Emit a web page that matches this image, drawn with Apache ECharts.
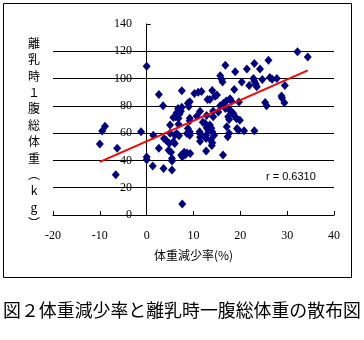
<!DOCTYPE html>
<html><head><meta charset="utf-8">
<script src="https://cdn.jsdelivr.net/npm/echarts@6/dist/echarts.min.js"></script>
<style>html,body{margin:0;padding:0;background:#fff}#c{width:364px;height:340px}</style>
</head><body><div id="c"></div>
<script>
// weight loss rate (%)
const lossRate = [-10,-9.5,-8.9,-6.3,-6.6,-1.2,0,0,0,1.3,1.4,2.6,2.6,3.5,3.6,3.7,4.1,5,4.8,5,4.7,5.2,5.4,5.4,5.4,7.6,
6.2,6.4,6.7,7,7.3,7.5,6.8,5.7,7.5,8.8,9,9.2,10.2,11,11.7,11.4,10.7,9.2,9.2,6.8,12,12.5,8.8,9.2,9.2,6.4,6.9,6,8.6,5.7,6,
11.3,11.4,13.5,13.8,14,14.4,12.8,13.2,12.7,12.7,11.4,11.4,13.7,14,13.9,7.4,8,8.2,8.6,9.3,7.6,12.7,16.3,
16.8,15.7,16,16.2,18.9,21.4,23,24.2,26,32.2,34.4,14,20.3,21.9,22.8,23,23.3,23.5,24.7,26.3,26.8,27.8,29.5,28.8,28.9,29.4,
25.3,25.6,18.7,13,13.5,14.6,15,16.4,17,17.8,18.1,19.7,15.7,16.8,17.4,17.8,18.1,14.2,15.3,12.8,14.2,17.4,18.5,18.9,19.2,19.9,17.6,
20.8,23,17.1,17.6,17.3,19.3,19.6];
// total litter weight at weaning (kg)
const litterWeight = [52,61.5,65,49,29.5,61,109,42.5,40.5,36,58.5,49,88.3,80,34,56,55,66,52.5,60,47.5,46,41.5,39.5,33,8,
72,75,78,74,76,79,71,71.5,91,82,79.5,83,89,90,90.5,76,72.4,69,71,66.6,68,67,63.4,61,58.5,59.8,58,58.5,59.8,53.6,52.4,
61,59.5,66,63.5,61,58.5,64,62,58.5,56,57,54,55,53,51,44,46,44,45.5,45,42.7,47,44,
109.7,102,99.5,97.5,105,107,111,107,113.4,119.7,115.8,91.2,97.5,95,100,98,96,94,99.3,100.7,99.5,100,95,87.3,85.8,82.3,
82.4,80,92,84.6,84.6,87,88,82,83.6,85.3,83.4,82.9,80,78,78,76.8,75.6,76.3,75.5,73,72,72,74.4,72,70.5,69.5,70,
61.7,61.7,64.6,60,57.3,63.4,62.2];
// regression line end points
const trendX = [-10, 34.4];
const trendY = [39, 106];
const xTicks = {min: -20, max: 40, step: 10};
const yTicks = {min: 0, max: 140, step: 20};
const rLabel = 'r = 0.6310';
const xName = '体重減少率(%)';
const yNameChars = ['離','乳','時','１','腹','総','体','重','︵','k','g','︶'];
const caption = '図２体重減少率と離乳時一腹総体重の散布図';

const pts = lossRate.map((x, i) => [x, litterWeight[i]]);
const trend = trendX.map((x, i) => [x, trendY[i]]);

const chart = echarts.init(document.getElementById('c'), null, {renderer: 'canvas'});
const labelFont = {fontFamily: 'Liberation Sans Narrow', fontSize: 12, color: '#000'};
chart.setOption({
  animation: false,
  backgroundColor: '#fff',
  grid: {left: 53, right: 30, top: 24, bottom: 125, containLabel: false},
  xAxis: {
    type: 'value', min: xTicks.min, max: xTicks.max, interval: xTicks.step,
    name: xName, nameLocation: 'middle', nameGap: 34,
    nameTextStyle: {fontFamily: 'Noto Sans CJK JP', fontSize: 12, color: '#000'},
    axisLine: {show: true, onZero: false, lineStyle: {color: '#000', width: 1}},
    axisTick: {show: true, inside: true, length: 4, lineStyle: {color: '#000'}},
    axisLabel: Object.assign({margin: 15}, labelFont),
    splitLine: {show: false}
  },
  yAxis: {
    type: 'value', min: yTicks.min, max: yTicks.max, interval: yTicks.step,
    axisLine: {show: true, onZero: true, lineStyle: {color: '#000', width: 1}},
    axisTick: {show: true, inside: true, length: 4, lineStyle: {color: '#000'}},
    axisLabel: Object.assign({margin: -79}, labelFont),
    splitLine: {show: true, showMinLine: false, showMaxLine: false, lineStyle: {color: '#000', width: 1}}
  },
  series: [
    {type: 'scatter', data: pts, symbol: 'diamond', symbolSize: [8, 9],
     itemStyle: {color: '#000080', opacity: 1}, z: 3},
    {type: 'line', data: trend, symbol: 'none', lineStyle: {color: '#ff0000', width: 2}, z: 4}
  ],
  graphic: [
    {type: 'rect', shape: {x: 3.5, y: 3.5, width: 348, height: 274},
     style: {fill: 'none', stroke: '#000', lineWidth: 1}},
    {type: 'text', left: 266, top: 171,
     style: {text: rLabel, font: '11px "Liberation Sans"', fill: '#000'}},
    {type: 'text', x: 34, y: 35,
     style: {text: yNameChars.join('\n'), font: '12px "Noto Sans CJK JP"', fill: '#000',
             align: 'center', lineHeight: 16.4}},
    {type: 'text', x: 182, y: 301,
     style: {text: caption, font: '17.9px "Noto Sans CJK JP"', fill: '#000', align: 'center'}}
  ]
});
</script></body></html>
